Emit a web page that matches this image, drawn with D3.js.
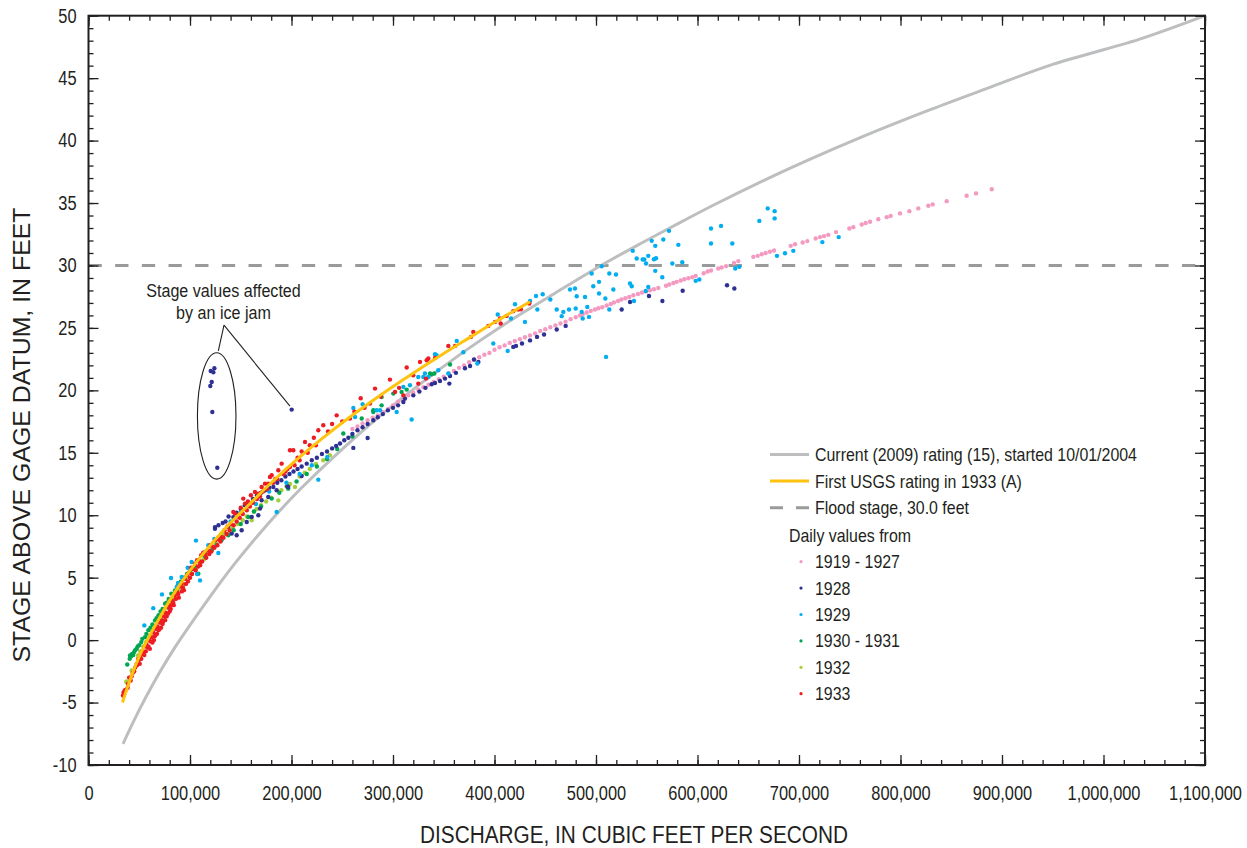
<!DOCTYPE html>
<html>
<head>
<meta charset="utf-8">
<script src="https://cdn.jsdelivr.net/npm/d3@7"></script>
<style>
  body { margin: 0; background: #fff; }
  text { font-family: "Liberation Sans", Arial, sans-serif; fill: #231f20; }
</style>
</head>
<body>
<script>
// discharge in thousands of cubic feet per second, stage in feet
var ratingCurrent = [[34,-8.3],[45,-6.4],[57,-4.5],[70,-2.6],[85,-0.6],[100,1.2],[120,3.5],[140,5.7],[165,8.2],[190,10.5],[210,12.2],[250,15.3],[285,17.8],[325,20.4],[370,23.1],[410,25.3],[460,27.8],[505,30.0],[545,31.8],[575,33.1],[615,34.8],[665,36.8],[705,38.3],[765,40.4],[830,42.5],[886,44.2],[950,46.1],[1035,48.1],[1100,50.0]];
var ratingFirst = [[33.5,-5.0],[40,-3.4],[49,-1.5],[56,-0.3],[70,1.8],[88,4.2],[105,6.1],[121,7.7],[140,9.4],[160,11.0],[180,12.6],[192,13.5],[210,14.8],[231,16.2],[255,17.7],[277,19.0],[300,20.3],[325,21.65],[350,22.95],[375,24.2],[400,25.45],[435,27.1]];
var floodStage = 30.0;

var dv1919 = [[260,16.9],[265,17.1],[270,17.35],[275,17.6],[280,17.8],[285,18.0],[290,18.25],[295,18.5],[300,18.8],[305,19.1],[310,19.2],[315,19.6],[320,19.8],[325,20.05],[330,20.25],[335,20.45],[340,20.67],[345,20.9],[350,21.1],[355,21.35],[360,21.55],[365,21.8],[370,22.0],[375,22.25],[380,22.45],[385,22.65],[390,22.85],[395,23.0],[400,23.25],[405,23.45],[410,23.6],[415,23.8],[420,23.95],[425,24.1],[430,24.25],[435,24.4],[440,24.55],[445,24.75],[450,24.9],[455,25.05],[460,25.2],[465,25.35],[470,25.5],[475,25.7],[480,25.85],
  [484.2,26.0],[486.9,26.1],[490.8,26.23],[494.8,26.36],[499,26.47],[502.3,26.58],[506.2,26.66],[510.5,26.79],[514.5,26.92],[517.7,27.03],[521.7,27.16],[525,27.27],[528.9,27.38],[532.8,27.48],[536.8,27.62],[541.4,27.72],[545.3,27.84],[549.3,27.92],[553.2,28.02],[557.1,28.1],[561.4,28.2],[569,28.37],[572.2,28.48],[576.2,28.6],[579.5,28.69],[583.5,28.8],[587,28.9],[591,28.98],[594.9,29.06],[598.2,29.17],[606.1,29.38],[610,29.52],[613.3,29.6],[620.5,29.76],[623.8,29.84],[628.1,29.95],[636,30.2],[640.2,30.35],
  [655,30.69],[659.3,30.77],[663.3,30.9],[667.2,31.0],[671.4,31.1],[675.4,31.2],[691.8,31.57],[696.1,31.7],[703.6,31.84],[708.2,31.95],[716.4,32.16],[720.7,32.27],[724.6,32.35],[728.9,32.45],[736.5,32.67],[749.6,32.96],[753.5,33.07],[761.8,33.28],[765.7,33.4],[770,33.5],[778.1,33.7],[786.4,33.87],[790.3,33.97],[799.5,34.17],[808.7,34.35],[817.5,34.57],[827.4,34.78],[831.7,34.89],[845.5,35.15],[865.2,35.58],[874.4,35.77],[889.9,36.1]];

var dv1928 = [[120.4,21.55],[123,21.45],[124,21.77],[121.4,20.67],[120,20.35],[122,18.27],[126.9,13.8],[200.2,18.46],
  [124.6,8.92],[124.6,9.05],[128,9.2],[132.2,9.38],[135,9.5],[137.7,9.06],[141.1,8.53],[146,8.4],[150.9,8.8],[155.9,9.46],[160.8,9.86],[167.3,10.0],[169,10.53],[170.6,11.2],[177.1,11.46],[185.4,12.0],[195.9,12.32],
  [138,9.9],[142.7,9.85],[146,10.2],[150,10.5],[154,10.8],[158,11.0],[162,11.3],[166,11.6],[170,11.8],[174,12.0],[178,12.2],[182.1,12.26],[186,12.6],[190,12.8],[194,13.1],[198,13.3],[202,13.5],[206,13.7],[210,13.9],[215,14.13],[220,14.4],[225,14.6],[230,14.9],[235,15.1],[240,15.35],[244,15.55],[247.8,15.74],[252,16.0],[256,16.2],[260,16.5],[265,16.8],[270,17.05],[275,17.3],[280.6,17.6],[285,17.85],[290,18.1],[295,18.4],[300,18.6],[305,18.8],[310.2,19.07],[311.8,19.34],[320,19.6],[326,19.9],[332,20.2],[338.1,20.49],[341.4,20.59],[346.3,20.75],[351.2,20.94],[355.5,20.54],[356.2,21.15],[362,21.4],[370.9,21.77],[375.9,21.95],[379.8,22.47],[384.1,22.27],
  [418.5,23.48],[421.2,23.56],[427.1,23.75],[435,24.0],[441.9,24.28],[448.8,24.47],[461.3,24.87],[470.1,25.16],[525.3,26.47],[533.5,27.08],[552.2,27.56],[565.4,27.16],[585.4,27.97],[629.1,28.42],[636.3,28.15],
  [210,13.14],[260.9,15.39],[275,16.19],[196.8,12.26]];

var dv1929 = [[55,1.18],[63.8,2.56],[72.4,3.66],[81.3,4.97],[88.2,4.57],[86.9,4.25],[91.8,5.05],[97.7,5.8],[101.6,6.25],[105.9,7.97],[109.9,4.78],[107,5.3],[114.8,7.05],[127.9,6.97],[118,7.6],[124,8.1],[140,9.5],[150,10.2],[165,10.9],[178,11.9],[185.4,10.26],[195,12.6],[208,13.3],[220,14.0],[226.4,12.85],[235.3,14.66],
  [260.9,18.59],[270.1,18.89],[287.2,18.41],[283.9,18.41],[262.6,17.87],[303.6,18.27],[318.4,17.66],[310.2,20.27],[316.7,20.41],[324.9,21.07],[329.9,21.07],[331.5,21.35],[334.8,21.07],[341.4,22.89],[343,22.81],[344.6,21.61],[354.5,21.35],[362.8,23.96],[369.3,23.05],[383.1,22.15],[398.8,23.75],[403.2,26.07],[413,23.16],[416.3,25.75],[420.2,26.9],[430,25.48],[435,27.16],[440.9,27.56],[442.2,26.47],[447.5,27.7],[455,27.27],[461.3,26.47],[466.2,25.94],[467.8,26.28],[473.4,26.47],[474.4,28.08],[479.3,28.16],[481,27.54],[480,26.55],
  [485.9,26.28],[486.9,25.75],[493.1,25.88],[489.2,27.48],[491.4,26.68],[495.7,29.36],[497.3,28.34],[503,28.69],[503,27.76],[505.6,29.94],[509.2,27.36],[513.1,29.36],[513.1,26.47],[517.1,28.08],[519.7,29.28],[533.5,28.56],[535.2,28.34],[536.2,31.17],[537.4,27.16],[540.1,30.56],[546,30.48],[547.6,30.48],[549.3,30.16],[551.5,30.77],[551.5,28.28],[549,27.96],[554.9,31.97],[557.1,30.5],[558.4,31.57],[559.1,30.58],[558.4,29.57],[565.3,29.06],[566.3,32.08],[571.9,32.77],[575.2,30.16],[581.1,31.65],[585,30.26],[598.2,28.77],[601.8,28.88],[613.3,32.96],[613.3,31.76],[623.2,33.17],[634.3,31.76],[637.2,29.76],[641.2,29.89],[660.9,33.57],[669.2,34.57],[676,34.35],[676,33.77],[678.3,30.77],[686.2,30.98],[694.4,31.17],[723,31.87],[739.1,32.27],[509.9,22.68]];

var dv1930 = [[38.2,-1.95],[40.6,-1.49],[40.9,-1.23],[42,-1.3],[43,-1.1],[44,-1.2],[45,-0.95],[46,-0.8],[47.5,-0.69],[48.5,-0.5],[50,-0.4],[52,-0.16],[53,0.1],[55.7,0.24],[57,0.5],[59,0.8],[61,1.0],[63,1.25],[65.5,1.58],[67,1.75],[69,2.0],[71,2.3],[73,2.5],[75.4,2.92],[77,3.0],[79,3.3],[81.6,3.72],[83,3.7],[85.2,3.98],[88,4.4],[91,4.7],[94,5.0],[97,5.3],[100,5.5],[104.9,5.85],[108.2,5.32],[110,6.3],[115,6.7],[121.4,7.19],[126,7.6],[131,8.0],[137.7,8.39],[143,8.8],[150,9.3],[157.4,9.86],[163,10.3],[170,10.7],[180.5,11.33],[188,11.8],[196.8,12.13],[205,12.7],[215,13.3],[225,13.9],[235,14.5],[245,15.3],[251,16.54],[260,16.3],[269.2,17.74],[280.6,18.41],[280.6,18.27],[288.8,19.47],[288.8,18.8],[300.3,19.74],[308.5,19.87],[313.5,20.06],[336.5,21.35],[338.1,21.29],[340.7,21.35],[356.2,22.07]];

var dv1932 = [[37.3,-3.3],[37.6,-3.37],[42.5,-2.43],[43.2,-2.6],[48.8,-1.23],[51,-0.9],[54,-0.5],[57,-0.1],[60,0.35],[63,0.75],[66,1.1],[69,1.5],[72,1.85],[75,2.2],[78,2.6],[81,2.95],[84,3.3],[87,3.65],[90,4.0],[94,4.45],[98,4.85],[102,5.3],[106,5.7],[110,6.1],[114,6.5],[118,6.9],[122,7.3],[126,7.75],[130,8.1],[132.8,8.5],[137.7,8.53],[142,9.0],[147,9.3],[152,9.6],[156,9.9],[160.8,9.59],[163,10.3],[165.7,10.5],[170,10.8],[175,11.1],[180,11.4],[187,11.19],[190,12.0],[195,12.3],[198.5,12.5],[203.4,12.26],[208,13.1],[213,13.4],[218,13.7],[224,14.1],[231.3,14.4],[237.9,14.8]];

var dv1933 = [[34.0,-4.43],[34.6,-4.2],[35.7,-4.03],[38.6,-3.82],[38.9,-3.5],[41.6,-3.23],[44,-2.6],[46,-2.2],[47.5,-1.9],[49,-1.5],[50,-1.57],[51.5,-1.2],[53,-0.9],[54,-1.1],[55.5,-0.5],[57,-0.3],[58,-0.6],[60,0.1],[61,-0.1],[62.3,0.24],[64,0.6],[65.2,0.3],[66.5,0.9],[68,1.1],[69,0.8],[70.5,1.4],[72.1,1.58],[73,1.3],[74.5,1.9],[76,2.2],[78.3,2.12],[79,2.6],[80.5,2.8],[82,3.18],[83.5,3.0],[85,3.6],[87,3.9],[88.5,3.7],[90,4.3],[91.8,4.52],[93,4.2],[95,4.9],[97,5.2],[99,5.4],[101,5.8],[103,5.7],[104.9,6.12],[107,6.4],[109,6.3],[111,6.8],[113,7.0],[115,6.9],[118,7.19],[120,7.6],[122,7.5],[125,8.0],[128,8.1],[131.2,8.25],[134,8.8],[137,9.1],[140,9.3],[142.7,10.26],[144.3,10.13],[147,9.9],[150,10.6],[152.5,11.33],[154.2,10.93],[157,11.1],[160,11.6],[164,11.86],[167.3,11.73],[170.6,12.26],[173.9,12.53],[177.1,12.53],[178.8,13.06],[180.5,13.2],[184,12.9],[187,13.6],[190.3,14.13],[194,13.5],[198.5,13.86],[198.5,15.2],[201.8,15.2],[206,14.6],[210,15.1],[213.3,15.87],[218,15.6],[222,16.2],[226.4,16.8],[231.3,17.2],[236,16.7],[240,17.3],[244.5,18.0],[250,17.5],[257.6,17.74],[262,18.3],[268.2,19.37],[272,18.6],[277.3,18.94],[282.3,20.14],[288,19.5],[297,20.86],[302,19.87],[306,20.2],[310.2,19.6],[313.5,21.83],[320,21.2],[324.9,20.54],[326.6,22.28],[332.5,20.94],[333.2,22.41],[334.8,22.55],[341.4,22.6],[354.5,23.56],[361.1,23.56],[376.8,24.28],[379.1,24.68],[393.9,25.16],[400.5,25.48],[405.4,25.75],[406.1,25.35],[412,25.96],[418.5,26.34],[423.4,26.47],[426,26.5],[434.3,26.95],
  [36.5,-4.0],[40,-3.0],[42.5,-2.9],[45,-2.5],[48,-2.0],[50.5,-1.9],[52,-1.5],[55,-1.2],[56.5,-0.9],[59,-0.5],[60.5,-0.7],[63,-0.2],[64.5,0.0],[66,0.4],[67.5,0.5],[70,0.9],[71.5,1.0],[73.5,1.5],[75.5,1.6],[77,1.9],[80,2.3],[81,2.5],[84,2.8],[86,3.3],[89,3.4],[92,3.9],[94,4.0],[96,4.5],[98,4.7],[100,5.0],[102,5.3],[105.5,5.6],[108,5.9],[110,6.0],[112,6.3],[116,6.6],[119,6.9],[121,7.1],[124,7.4],[127,7.6],[130,7.9],[133,8.2],[136,8.5],[139,8.8],[143,9.2],[146,9.5],[149,9.8],[152,10.1],[156,10.4],[159,10.7],[162,11.0],[166,11.3],[169,11.5],[172,11.9],[176,12.1],[182,12.6],[186,12.9],[192,13.3],[196,13.7],[203,14.0],[208,14.4],[216,15.0],[224,15.6]];

var seriesNames = ["1919 - 1927","1928","1929","1930 - 1931","1932","1933"];
var seriesColors = ["#f49ac1","#2e3192","#00aeef","#00a651","#a6ce39","#ed1c24"];
var seriesData = [dv1919, dv1928, dv1929, dv1930, dv1932, dv1933];
var drawOrder = [0, 4, 3, 1, 2, 5];

var xTicks = d3.range(0, 1101, 100);
var yTicks = d3.range(-10, 51, 5);

var svgWidth = 1247, svgHeight = 848;
var svg = d3.select("body").append("svg").attr("width", svgWidth).attr("height", svgHeight);

var plotLeft = 88.5, plotRight = 1205, plotTop = 15.7, plotBottom = 765;
var x = d3.scaleLinear().domain([0, 1100]).range([plotLeft, plotRight]);
var y = d3.scaleLinear().domain([-10, 50]).range([plotBottom, plotTop]);

// squeeze Liberation Sans into a condensed look
function condense(sel, f) {
  sel.each(function() {
    var w = this.getComputedTextLength();
    this.setAttribute("textLength", w * f);
    this.setAttribute("lengthAdjust", "spacingAndGlyphs");
  });
}

// flood stage
svg.append("line")
  .attr("x1", x(0)).attr("x2", x(1100))
  .attr("y1", y(floodStage)).attr("y2", y(floodStage))
  .attr("stroke", "#999a9c").attr("stroke-width", 3)
  .attr("stroke-dasharray", "13.3,13.37");

// rating curves
var line = d3.line().x(function(d) { return x(d[0]); }).y(function(d) { return y(d[1]); }).curve(d3.curveCatmullRom.alpha(0.5));
svg.append("path").datum(ratingCurrent).attr("d", line)
  .attr("fill", "none").attr("stroke", "#bcbec0").attr("stroke-width", 3);

// dots
drawOrder.forEach(function(i) {
  svg.append("g").selectAll("circle")
    .data(seriesData[i])
    .enter().append("circle")
    .attr("cx", function(d) { return x(d[0]); })
    .attr("cy", function(d) { return y(d[1]); })
    .attr("r", 2.2)
    .attr("fill", seriesColors[i]);
});

svg.append("path").datum(ratingFirst).attr("d", line)
  .attr("fill", "none").attr("stroke", "#ffc20e").attr("stroke-width", 3);

// ice jam note
svg.append("ellipse")
  .attr("cx", x(126.3)).attr("cy", y(17.95))
  .attr("rx", x(126.3 + 19) - x(126.3)).attr("ry", y(17.95 - 5.06) - y(17.95))
  .attr("fill", "none").attr("stroke", "#231f20").attr("stroke-width", 1.1);
var apex = [133.5, 25.22];
[[127.9, 23.16], [198.5, 18.73]].forEach(function(p) {
  svg.append("line")
    .attr("x1", x(apex[0])).attr("y1", y(apex[1]))
    .attr("x2", x(p[0])).attr("y2", y(p[1]))
    .attr("stroke", "#231f20").attr("stroke-width", 1.1);
});
svg.append("text").attr("x", 223.5).attr("y", 297).attr("text-anchor", "middle")
  .style("font-size", "17.5px").text("Stage values affected").call(condense, 0.92);
svg.append("text").attr("x", 223.5).attr("y", 319).attr("text-anchor", "middle")
  .style("font-size", "17.5px").text("by an ice jam").call(condense, 0.92);

// axes, ticks inside on all four sides
function styleAxis(g) {
  g.select(".domain").remove();
  g.selectAll("line").attr("stroke", "#231f20").attr("stroke-width", 1.3);
  g.selectAll("text").style("font-size", "20px").attr("fill", "#231f20").call(condense, 0.82);
}
var fmtX = function(d) { return d3.format(",")(d * 1000); };
svg.append("g").attr("transform", "translate(0," + plotBottom + ")")
  .call(d3.axisBottom(x).tickValues(xTicks).tickSize(-10).tickPadding(21).tickFormat(fmtX)).call(styleAxis);
svg.append("g").attr("transform", "translate(0," + plotBottom + ")")
  .call(d3.axisBottom(x).tickValues(d3.range(0, 1101, 20)).tickSize(-5).tickFormat("")).call(styleAxis);
svg.append("g").attr("transform", "translate(0," + plotTop + ")")
  .call(d3.axisTop(x).tickValues(xTicks).tickSize(-10).tickFormat("")).call(styleAxis);
svg.append("g").attr("transform", "translate(0," + plotTop + ")")
  .call(d3.axisTop(x).tickValues(d3.range(0, 1101, 20)).tickSize(-5).tickFormat("")).call(styleAxis);
svg.append("g").attr("transform", "translate(" + plotLeft + ",0)")
  .call(d3.axisLeft(y).tickValues(yTicks).tickSize(-10).tickPadding(12).tickFormat(function(d) { return String(d); })).call(styleAxis);
svg.append("g").attr("transform", "translate(" + plotLeft + ",0)")
  .call(d3.axisLeft(y).tickValues(d3.range(-10, 51, 1)).tickSize(-5).tickFormat("")).call(styleAxis);
svg.append("g").attr("transform", "translate(" + plotRight + ",0)")
  .call(d3.axisRight(y).tickValues(yTicks).tickSize(-10).tickFormat("")).call(styleAxis);
svg.append("g").attr("transform", "translate(" + plotRight + ",0)")
  .call(d3.axisRight(y).tickValues(d3.range(-10, 51, 1)).tickSize(-5).tickFormat("")).call(styleAxis);

svg.append("rect").attr("x", plotLeft).attr("y", plotTop).attr("width", plotRight - plotLeft).attr("height", plotBottom - plotTop)
  .attr("fill", "none").attr("stroke", "#231f20").attr("stroke-width", 2);

// axis titles
svg.append("text").attr("x", 634).attr("y", 843).attr("text-anchor", "middle")
  .style("font-size", "23px").text("DISCHARGE, IN CUBIC FEET PER SECOND")
  .attr("textLength", 428).attr("lengthAdjust", "spacingAndGlyphs");
svg.append("text").attr("transform", "translate(30,435)rotate(-90)")
  .attr("text-anchor", "middle").style("font-size", "23px").text("STAGE ABOVE GAGE DATUM, IN FEET")
  .attr("textLength", 455).attr("lengthAdjust", "spacingAndGlyphs");

// legend
var lg = svg.append("g");
var lineKeys = [
  {label: "Current (2009) rating (15), started 10/01/2004", color: "#bcbec0", dash: null},
  {label: "First USGS rating in 1933 (A)", color: "#ffc20e", dash: null},
  {label: "Flood stage, 30.0 feet", color: "#999a9c", dash: "13,13"}
];
lineKeys.forEach(function(k, i) {
  var yy = 454.5 + i * 26.6;
  lg.append("line").attr("x1", 770).attr("x2", 809).attr("y1", yy).attr("y2", yy)
    .attr("stroke", k.color).attr("stroke-width", 3).attr("stroke-dasharray", k.dash);
  lg.append("text").attr("x", 815).attr("y", yy + 6.5).style("font-size", "18.5px").text(k.label).call(condense, 0.86);
});
lg.append("text").attr("x", 789).attr("y", 541.5).style("font-size", "18.5px").text("Daily values from").call(condense, 0.86);
seriesNames.forEach(function(name, i) {
  var yy = 561.7 + i * 26.4;
  lg.append("circle").attr("cx", 801).attr("cy", yy).attr("r", 1.6).attr("fill", seriesColors[i]);
  lg.append("text").attr("x", 815).attr("y", yy + 6.5).style("font-size", "18.5px").text(name).call(condense, 0.86);
});
</script>
</body>
</html>
